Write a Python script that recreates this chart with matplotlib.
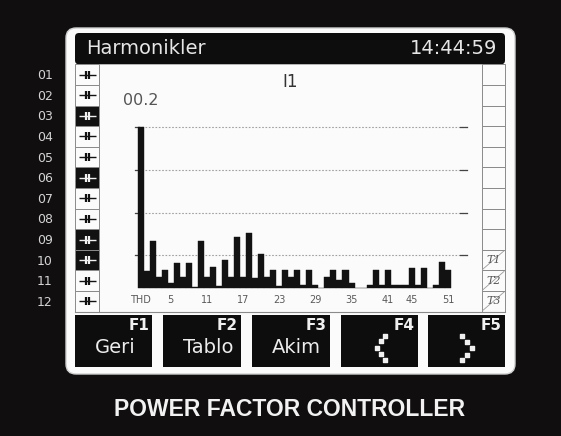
import matplotlib
matplotlib.use("Agg")
import matplotlib.pyplot as plt
from matplotlib.patches import Rectangle, FancyBboxPatch

# ---------------- data ----------------
harmonics = ["THD"] + [str(h) for h in range(1, 52)]
levels = [161, 17, 47, 11.5, 18, 5.5, 25, 11.5, 25, 1.5,
          47, 11.5, 21.7, 2, 28, 11.5, 51.6, 11.5, 55, 10.5,
          34, 11.5, 18, 2, 18, 11.5, 18, 3, 18, 3,
          0, 11.7, 18, 8, 18, 5, 0, 0, 3, 18,
          3, 18, 3, 3, 3, 20.7, 3, 20.7, 0, 3,
          26.7, 18]
tick_labels = ["THD", "5", "11", "17", "23", "29", "35", "41", "45", "51"]
grid_levels = [33, 75, 118, 161]
step_labels = ["01", "02", "03", "04", "05", "06", "07", "08", "09", "10", "11", "12"]
step_active = [False, False, True, False, False, True, False, False, True, True, False, False]
right_labels = ["", "", "", "", "", "", "", "", "", "T1", "T2", "T3"]
key_names = ["F1", "F2", "F3", "F4", "F5"]
key_texts = ["Geri", "Tablo", "Akim", "<", ">"]
title_left = "Harmonikler"
clock = "14:44:59"
channel = "I1"
max_text = "00.2"
footer = "POWER FACTOR CONTROLLER"

# ---------------- figure ----------------
W, H = 561, 436
fig = plt.figure(figsize=(W / 100, H / 100), dpi=100)
BG = "#100e0f"
fig.patch.set_facecolor(BG)

bg = fig.add_axes([0, 0, 1, 1])
bg.set_xlim(0, W)
bg.set_ylim(H, 0)
bg.axis("off")

# white screen panel
bg.add_patch(FancyBboxPatch((66, 28), 449, 346,
                            boxstyle="round,pad=0,rounding_size=10",
                            fc="#fbfbfb", ec="#d0d0d0", lw=1))
# header bar
bg.add_patch(FancyBboxPatch((75, 33), 430, 31.3,
                            boxstyle="round,pad=0,rounding_size=4",
                            fc="#0d0d0d", ec="none"))
bg.text(86, 48.5, title_left, ha="left", va="center", color="#e6e6e6", fontsize=14)
bg.text(497, 48.5, clock, ha="right", va="center", color="#e6e6e6", fontsize=14)

# step cells
top, bottom = 64.3, 311.7
rh = (bottom - top) / 12
for i, (lab, act) in enumerate(zip(step_labels, step_active)):
    y0 = top + i * rh
    yc = y0 + rh / 2
    fc = "#111111" if act else "#fbfbfb"
    sc = "#f0f0f0" if act else "#111111"
    bg.add_patch(Rectangle((75, y0), 24.3, rh, fc=fc, ec="#8a8a8a", lw=0.7))
    bg.plot([79, 96], [yc, yc], color=sc, lw=1.0, solid_capstyle="butt")
    bg.plot([86, 86], [yc - 4, yc + 4], color=sc, lw=1.6, solid_capstyle="butt")
    bg.plot([89, 89], [yc - 4, yc + 4], color=sc, lw=1.6, solid_capstyle="butt")
    bg.text(45, yc + 1, lab, ha="center", va="center", color="#d4d4d4", fontsize=9)

    rl = right_labels[i]
    bg.add_patch(Rectangle((481.7, y0), 23.3, rh, fc="#fbfbfb", ec="#8a8a8a", lw=0.7))
    if rl:
        bg.plot([482.5, 504], [y0 + rh - 1, y0 + 1], color="#9a9a9a", lw=0.6)
        bg.text(493.5, yc, rl, ha="center", va="center", color="#555555",
                fontsize=8, family="DejaVu Serif", style="italic")

# chart area bottom line
bg.plot([75, 505], [bottom, bottom], color="#8a8a8a", lw=0.8)

# function keys
key_x = [75, 163.3, 252.3, 340.7, 427.7]
key_w = 77.3
for kx, kn, kt in zip(key_x, key_names, key_texts):
    bg.add_patch(Rectangle((kx, 315), key_w, 51.7, fc="#0d0d0d", ec="none"))
    bg.text(kx + key_w - 3, 325, kn, ha="right", va="center", color="#f0f0f0",
            fontsize=11, fontweight="bold")
    if kt == "<":
        cx = kx + 40
        pts = [(cx + 4, 336), (cx, 341), (cx - 4, 347.5), (cx, 354), (cx + 4, 359.5)]
        bg.scatter([p[0] for p in pts], [p[1] for p in pts], marker="s", s=9,
                   color="#f0f0f0", zorder=5)
    elif kt == ">":
        cx = kx + 39
        pts = [(cx - 5, 336), (cx, 341.5), (cx + 5, 348), (cx, 354.5), (cx - 5, 360)]
        bg.scatter([p[0] for p in pts], [p[1] for p in pts], marker="s", s=9,
                   color="#f0f0f0", zorder=5)
    else:
        bg.text(kx + 20, 347, kt, ha="left", va="center", color="#ececec", fontsize=14)

# footer
bg.text(290, 409, footer, ha="center", va="center", color="#f2f2f2",
        fontsize=16.5, fontweight="bold", family="Liberation Sans")

# ---------------- bar chart ----------------
bar_w_px = 313.5 / 52
x_left_px, x_right_px = 100, 481.7
base_px = 288.3
xl = (x_left_px - 137.5) / bar_w_px - 0.5
xr = (x_right_px - 137.5) / bar_w_px - 0.5
ax = fig.add_axes([x_left_px / W, 1 - bottom / H, (x_right_px - x_left_px) / W,
                   (bottom - top) / H])
ax.set_xlim(xl, xr)
ax.set_ylim(-(bottom - base_px), base_px - top)
ax.axis("off")
ax.patch.set_alpha(0)

xs = list(range(len(levels)))
ax.bar(xs, levels, width=1.0, color="#121212", edgecolor="#121212", lw=0.3, zorder=3)

g0 = (135 - 137.5) / bar_w_px - 0.5
g1 = (467 - 137.5) / bar_w_px - 0.5
g2 = (460 - 137.5) / bar_w_px - 0.5
for gl in grid_levels:
    ax.plot([g0, g1], [gl, gl], color="#a0a0a0", lw=0.8, ls=(0, (1.5, 1.5)), zorder=1)
    ax.plot([g2, g1], [gl, gl], color="#444444", lw=0.9, zorder=2)
    ax.plot([g0, g0 + 0.6], [gl, gl], color="#444444", lw=0.9, zorder=2)

for lab in tick_labels:
    pos = 0 if lab == "THD" else int(lab)
    ax.text(pos, -11.5, lab, ha="center", va="center", color="#5a5a5a", fontsize=7)

ax.text(0, 188, max_text, ha="center", va="center", color="#555555", fontsize=11.5)
ax.text((290 - 137.5) / bar_w_px - 0.5, base_px - 81.5, channel, ha="center",
        va="center", color="#333333", fontsize=12)

fig.savefig("out.png", dpi=100, facecolor=BG)
